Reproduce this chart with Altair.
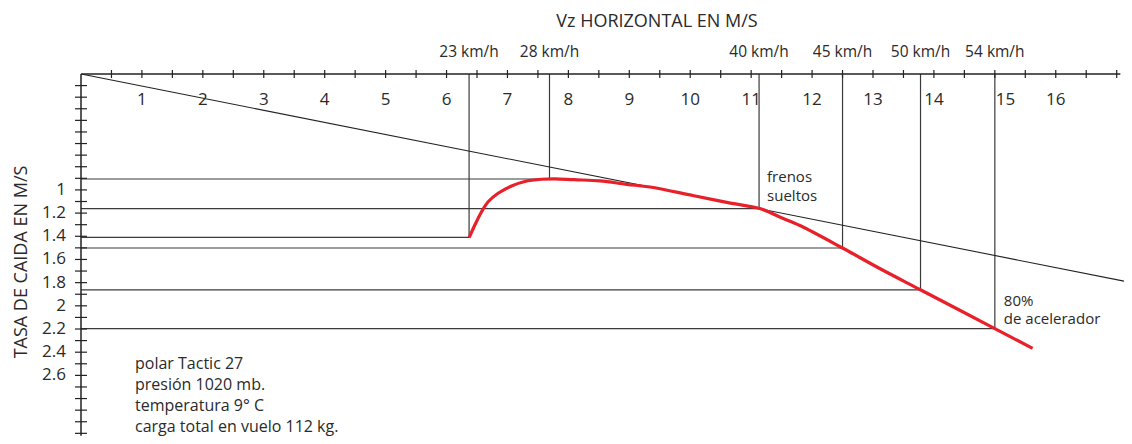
import altair as alt
import pandas as pd

# ---------------- data ----------------
# polar curve: horizontal speed (m/s) and sink rate (m/s)
curve_v = [6.371, 6.465, 6.575, 6.683, 6.847, 7.067, 7.285, 7.56, 7.78, 8.09, 8.52,
           8.96, 9.34, 10.04, 10.60, 11.14, 11.31, 11.47, 11.80, 12.50, 13.11, 13.77,
           15.00, 15.62]
curve_s = [1.412, 1.303, 1.188, 1.102, 1.029, 0.966, 0.927, 0.908, 0.904, 0.912, 0.922,
           0.952, 0.975, 1.048, 1.107, 1.160, 1.195, 1.234, 1.307, 1.501, 1.678, 1.859,
           2.196, 2.367]

# marked speeds
mark_kmh = ["23 km/h", "28 km/h", "40 km/h", "45 km/h", "50 km/h", "54 km/h"]
mark_v = [6.37, 7.69, 11.13, 12.50, 13.78, 15.00]
mark_s = [1.41, 0.906, 1.162, 1.501, 1.862, 2.196]

# best-glide tangent line from origin
glide_v = [0.0, 17.12]
glide_s = [0.0, 1.787]

# axis ticks / labels
x_tick_vals = [0.5 * i for i in range(1, 35)]
x_label_vals = [1, 2, 3, 4, 5, 6, 7, 8, 9, 10, 11, 12, 13, 14, 16]
x_label_shifted = [15]          # drawn just right of the 54 km/h line
y_tick_vals = [round(0.1 * i, 1) for i in range(1, 32)]
y_label_vals = [1.0, 1.2, 1.4, 1.6, 1.8, 2.0, 2.2, 2.4, 2.6]
y_label_txt = ["1", "1.2", "1.4", "1.6", "1.8", "2", "2.2", "2.4", "2.6"]

x_axis_end = 17.06
y_axis_end = 3.12

title_x = "Vz HORIZONTAL EN M/S"
title_y = "TASA DE CAIDA EN M/S"
note_lines = ["polar Tactic 27", "presión 1020 mb.", "temperatura 9° C",
              "carga total en vuelo 112 kg."]
frenos_lines = ["frenos", "sueltos"]
acel_lines = ["80%", "de acelerador"]

# ---------------- styling ----------------
FONT = "Open Sans"
TXT = "#2a2a2a"
LINE = "#3a3a3a"
RED = "#e8202a"

W, H = 1043, 362
xs = alt.Scale(domain=[0, 17.12], nice=False, zero=False)
ys = alt.Scale(domain=[0, 3.123], nice=False, zero=False, reverse=True)

curve_df = pd.DataFrame({"v": curve_v, "s": curve_s})
mark_df = pd.DataFrame({"v": mark_v, "s": mark_s, "kmh": mark_kmh,
                        "zero": [0.0] * len(mark_v)})
glide_df = pd.DataFrame({"v": glide_v, "s": glide_s})
xt_df = pd.DataFrame({"v": x_tick_vals, "zero": [0.0] * len(x_tick_vals)})
xl_df = pd.DataFrame({"v": x_label_vals, "lab": [str(v) for v in x_label_vals],
                      "zero": [0.0] * len(x_label_vals)})
xl2_df = pd.DataFrame({"v": x_label_shifted, "lab": [str(v) for v in x_label_shifted],
                       "zero": [0.0] * len(x_label_shifted)})
yt_df = pd.DataFrame({"s": y_tick_vals, "zero": [0.0] * len(y_tick_vals)})
yl_df = pd.DataFrame({"s": y_label_vals, "lab": y_label_txt,
                      "zero": [0.0] * len(y_label_vals)})
axes_df = pd.DataFrame({"zero": [0.0], "xend": [x_axis_end], "yend": [y_axis_end]})
frenos_df = pd.DataFrame({"v": [mark_v[2]], "s": [mark_s[2]]})
acel_df = pd.DataFrame({"v": [mark_v[5]], "s": [mark_s[5]]})
one = pd.DataFrame({"k": [0]})


def X(f):
    return alt.X(f, scale=xs, axis=None)


def Y(f):
    return alt.Y(f, scale=ys, axis=None)


# reference lines
vlines = alt.Chart(mark_df).mark_rule(color=LINE, strokeWidth=1.2).encode(
    x=X("v:Q"), y=Y("zero:Q"), y2="s:Q")
hlines = alt.Chart(mark_df).mark_rule(color=LINE, strokeWidth=1.2).encode(
    x=X("zero:Q"), x2="v:Q", y=Y("s:Q"))

glide = alt.Chart(glide_df).mark_line(color="#222222", strokeWidth=1.1, clip=True).encode(
    x=X("v:Q"), y=Y("s:Q"))

# axes
x_axis = alt.Chart(axes_df).mark_rule(color="#222222", strokeWidth=1.5).encode(
    x=X("zero:Q"), x2="xend:Q", y=Y("zero:Q"))
y_axis = alt.Chart(axes_df).mark_rule(color="#222222", strokeWidth=1.5).encode(
    x=X("zero:Q"), y=Y("zero:Q"), y2="yend:Q")
x_ticks = alt.Chart(xt_df).mark_rule(color="#222222", strokeWidth=1.2,
                                     yOffset=-4, y2Offset=4).encode(
    x=X("v:Q"), y=Y("zero:Q"), y2="zero:Q")
y_ticks = alt.Chart(yt_df).mark_rule(color="#222222", strokeWidth=1.2,
                                     xOffset=-6, x2Offset=6).encode(
    y=Y("s:Q"), x=X("zero:Q"), x2="zero:Q")

x_labels = alt.Chart(xl_df).mark_text(font=FONT, fontSize=17, color=TXT, dy=26,
                                      baseline="middle").encode(
    x=X("v:Q"), y=Y("zero:Q"), text="lab:N")
x_labels2 = alt.Chart(xl2_df).mark_text(font=FONT, fontSize=17, color=TXT, dy=26, dx=1,
                                        baseline="middle", align="left").encode(
    x=X("v:Q"), y=Y("zero:Q"), text="lab:N")
kmh_labels = alt.Chart(mark_df).mark_text(font=FONT, fontSize=15.5, color=TXT, dy=-22,
                                          baseline="middle").encode(
    x=X("v:Q"), y=Y("zero:Q"), text="kmh:N")
y_labels = alt.Chart(yl_df).mark_text(font=FONT, fontSize=17, color=TXT, dx=-15,
                                      align="right", baseline="middle").encode(
    y=Y("s:Q"), x=X("zero:Q"), text="lab:N")

# polar curve
curve = alt.Chart(curve_df).mark_line(color=RED, strokeWidth=3.2,
                                      interpolate="catmull-rom").encode(
    x=X("v:Q"), y=Y("s:Q"))

# titles and notes
t_x = alt.Chart(one).mark_text(font=FONT, fontSize=18, color=TXT, text=title_x,
                               baseline="middle", align="center").encode(
    x=alt.value(576), y=alt.value(-52))
t_y = alt.Chart(one).mark_text(font=FONT, fontSize=18, color=TXT, text=title_y,
                               baseline="middle", align="center", angle=270).encode(
    x=alt.value(-59), y=alt.value(188))
note = alt.Chart(one).mark_text(font=FONT, fontSize=16, color=TXT, text=note_lines,
                                align="left", baseline="alphabetic", lineHeight=21).encode(
    x=alt.value(54), y=alt.value(295))
frenos = alt.Chart(frenos_df).mark_text(font=FONT, fontSize=15, color=TXT, text=frenos_lines,
                                        align="left", baseline="alphabetic", lineHeight=19,
                                        dx=8, dy=-27).encode(
    x=X("v:Q"), y=Y("s:Q"))
acel = alt.Chart(acel_df).mark_text(font=FONT, fontSize=15, color=TXT, text=acel_lines,
                                    align="left", baseline="alphabetic", lineHeight=18,
                                    dx=9, dy=-23).encode(
    x=X("v:Q"), y=Y("s:Q"))

chart = alt.layer(
    hlines, vlines, glide, x_axis, y_axis, x_ticks, y_ticks,
    x_labels, x_labels2, kmh_labels, y_labels, curve, t_x, t_y, note, frenos, acel
).properties(
    width=W, height=H,
    autosize=alt.AutoSizeParams(type="none"),
    padding={"left": 73, "top": 66, "right": 0, "bottom": 0},
    background="white",
).configure_view(stroke=None)

chart.save("out.html", embed_options={"renderer": "svg", "actions": False})
